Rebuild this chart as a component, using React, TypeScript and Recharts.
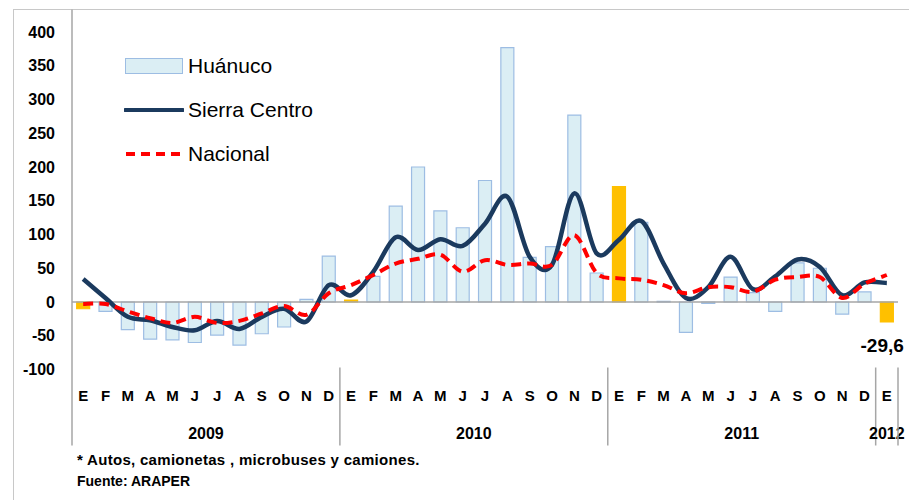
import {
  Bar,
  Cell,
  ComposedChart,
  LabelList,
  Line,
  ReferenceLine,
  XAxis,
  YAxis,
} from 'recharts';

const FONT = '"Liberation Sans", Arial, sans-serif';

const COLOR_BAR = '#dbeef4';
const COLOR_BAR_EDGE = '#9dbde3';
const COLOR_JAN = '#ffc000';
const COLOR_SIERRA = '#1b3a5e';
const COLOR_NACIONAL = '#ff0000';
const COLOR_AXIS = '#a6a6a6';

const MONTH_LETTERS = ['E', 'F', 'M', 'A', 'M', 'J', 'J', 'A', 'S', 'O', 'N', 'D'];
const YEARS = ['2009', '2010', '2011', '2012'];

// Jan 2009 .. Jan 2012, variación % anual
const HUANUCO = [
  -10, -14, -41, -55, -56, -60, -49, -64, -47, -37, 4, 68,
  3, 38, 142, 200, 135, 110, 180, 377, 66, 82, 277, 43,
  171, 118, 1, -45, -2, 37, 14, -14, 58, 50, -18, 15,
  -29.6,
];
const SIERRA_CENTRO = [
  34, 6, -22, -27, -37, -42, -28, -40, -22, -10, -29, 25,
  10, 45, 96, 77, 93, 83, 116, 156, 67, 55, 161, 72,
  92, 120, 57, 6, 22, 67, 19, 38, 63, 52, 10, 29,
  28,
];
const NACIONAL = [
  -3, -3, -14, -24, -31, -22, -31, -28, -17, -6, -19, 13,
  25, 40, 57, 64, 70, 45, 62, 55, 57, 55, 99, 43,
  35, 33, 25, 13, 22, 22, 15, 33, 37, 37, 6, 27,
  40,
];
const Y_TICKS = [-100, -50, 0, 50, 100, 150, 200, 250, 300, 350, 400];

const data = HUANUCO.map((v, i) => ({
  key: `${YEARS[Math.floor(i / 12)]}-${i % 12}`,
  month: MONTH_LETTERS[i % 12],
  huanuco: v,
  sierra: SIERRA_CENTRO[i],
  nacional: NACIONAL[i],
}));
const LAST = data.length - 1;

const PLOT_LEFT = 72;
const PLOT_RIGHT = 898;
const SLOT = (PLOT_RIGHT - PLOT_LEFT) / data.length;

// Excel-style smoothed line (uniform Catmull-Rom as cubic Beziers)
function smoothCurve(context: any) {
  let pts: [number, number][] = [];
  return {
    areaStart() {},
    areaEnd() {},
    lineStart() {
      pts = [];
    },
    point(x: number, y: number) {
      pts.push([+x, +y]);
    },
    lineEnd() {
      if (!pts.length) return;
      context.moveTo(pts[0][0], pts[0][1]);
      for (let i = 0; i < pts.length - 1; i++) {
        const p0 = pts[i - 1] || pts[i];
        const p1 = pts[i];
        const p2 = pts[i + 1];
        const p3 = pts[i + 2] || p2;
        const t = 1 / 6;
        context.bezierCurveTo(
          p1[0] + (p2[0] - p0[0]) * t,
          p1[1] + (p2[1] - p0[1]) * t,
          p2[0] - (p3[0] - p1[0]) * t,
          p2[1] - (p3[1] - p1[1]) * t,
          p2[0],
          p2[1],
        );
      }
    },
  };
}

function MonthTick(props: any) {
  const { x, y, payload } = props;
  const i: number = payload.index;
  const month = data[i]?.month ?? '';
  const yearIdx = Math.floor(i / 12);
  return (
    <g>
      <text
        x={x}
        y={y + 31}
        textAnchor="middle"
        fontFamily={FONT}
        fontSize={15}
        fontWeight="bold"
        fill="#000"
      >
        {month}
      </text>
      {i % 12 === 5 && (
        <text x={x + SLOT / 2} y={y + 69} textAnchor="middle" fontFamily={FONT} fontSize={16} fontWeight="bold" fill="#000">
          {YEARS[yearIdx]}
        </text>
      )}
      {i === LAST && (
        <text x={x} y={y + 69} textAnchor="middle" fontFamily={FONT} fontSize={16} fontWeight="bold" fill="#000">
          {YEARS[yearIdx]}
        </text>
      )}
      {i === 0 && (
        <line x1={x - SLOT / 2} x2={x - SLOT / 2} y1={y - 360} y2={y + 76} stroke={COLOR_AXIS} strokeWidth={1.5} />
      )}
      {(i % 12 === 11 || i === LAST) && (
        <line x1={x + SLOT / 2} x2={x + SLOT / 2} y1={y - 2} y2={y + 76} stroke={COLOR_AXIS} strokeWidth={1.5} />
      )}
    </g>
  );
}

function LastLabel(props: any) {
  const { x, y, width, height, value, index } = props;
  if (index !== LAST) return null;
  const bottom = Math.max(y, y + height);
  return (
    <text
      x={x + width / 2 + 17}
      y={bottom + 30}
      textAnchor="end"
      fontFamily={FONT}
      fontSize={19}
      fontWeight="bold"
      fill="#000"
    >
      {String(value).replace('.', ',')}
    </text>
  );
}

function LegendBlock() {
  const row = (swatch: React.ReactNode, label: string, top: number) => (
    <div style={{ position: 'absolute', left: 0, top, display: 'flex', alignItems: 'center', height: 24 }}>
      <svg width={60} height={24}>{swatch}</svg>
      <span style={{ marginLeft: 4, fontSize: 21, fontFamily: FONT, color: '#000', lineHeight: '24px' }}>{label}</span>
    </div>
  );
  return (
    <div style={{ position: 'absolute', left: 124, top: 54, width: 240, height: 120 }}>
      {row(<rect x={1.5} y={4.5} width={57} height={15} fill={COLOR_BAR} stroke={COLOR_BAR_EDGE} strokeWidth={1} />, 'Huánuco', 0)}
      {row(<line x1={1} x2={59} y1={12} y2={12} stroke={COLOR_SIERRA} strokeWidth={4} strokeLinecap="round" />, 'Sierra Centro', 44)}
      {row(<line x1={2} x2={59} y1={12} y2={12} stroke={COLOR_NACIONAL} strokeWidth={4} strokeDasharray="9 6" />, 'Nacional', 88)}
    </div>
  );
}

export default function App() {
  return (
    <div style={{ position: 'absolute', left: 0, top: 0, width: 909, height: 500, background: '#fff', fontFamily: FONT }}>
      <div
        style={{
          position: 'absolute',
          left: 13,
          top: 9,
          width: 896,
          height: 491,
          borderTop: '1.5px solid #c8c8c8',
          borderLeft: '1.5px solid #c8c8c8',
          boxSizing: 'border-box',
        }}
      />
      <ComposedChart
        width={909}
        height={500}
        data={data}
        margin={{ top: 32, right: 909 - PLOT_RIGHT, bottom: 0, left: 0 }}
        barCategoryGap="21%"
        style={{ position: 'absolute', left: 0, top: 0 }}
      >
        <XAxis
          dataKey="key"
          interval={0}
          height={130.5}
          axisLine={false}
          tickLine={false}
          tickSize={0}
          tickMargin={0}
          tick={<MonthTick />}
        />
        <YAxis
          domain={[-100, 400]}
          ticks={Y_TICKS}
          width={PLOT_LEFT}
          axisLine={false}
          tickLine={false}
          tickSize={0}
          tickMargin={17}
          tick={{ fill: '#000', fontSize: 16, fontWeight: 'bold', fontFamily: FONT }}
        />
        <Bar dataKey="huanuco" isAnimationActive={false} strokeWidth={1.2}>
          {data.map((_, i) => (
            <Cell
              key={i}
              fill={i % 12 === 0 ? COLOR_JAN : COLOR_BAR}
              stroke={i % 12 === 0 ? COLOR_JAN : COLOR_BAR_EDGE}
            />
          ))}
          <LabelList dataKey="huanuco" content={<LastLabel />} />
        </Bar>
        <ReferenceLine y={0} stroke={COLOR_AXIS} strokeWidth={1.5} />
        <Line
          dataKey="sierra"
          type={smoothCurve as any}
          stroke={COLOR_SIERRA}
          strokeWidth={4.5}
          dot={false}
          activeDot={false}
          isAnimationActive={false}
        />
        <Line
          dataKey="nacional"
          type={smoothCurve as any}
          stroke={COLOR_NACIONAL}
          strokeWidth={4}
          strokeDasharray="10 6"
          dot={false}
          activeDot={false}
          isAnimationActive={false}
        />
      </ComposedChart>
      <LegendBlock />
      <div style={{ position: 'absolute', left: 77, top: 451, fontSize: 15, letterSpacing: 0.3, fontWeight: 'bold', fontFamily: FONT, color: '#000', lineHeight: '18px', whiteSpace: 'nowrap' }}>
        * Autos, camionetas , microbuses y camiones.
      </div>
      <div style={{ position: 'absolute', left: 77, top: 472, fontSize: 14, fontWeight: 'bold', fontFamily: FONT, color: '#000', lineHeight: '18px', whiteSpace: 'nowrap' }}>
        Fuente: ARAPER
      </div>
    </div>
  );
}
